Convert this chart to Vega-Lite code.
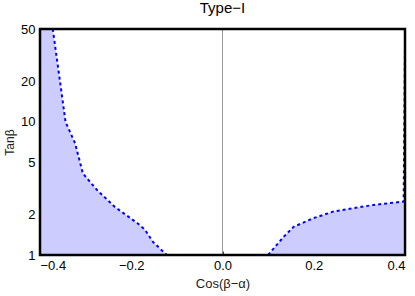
{
  "$schema": "https://vega.github.io/schema/vega-lite/v6.json",
  "autosize": "none",
  "width": 365,
  "height": 226,
  "padding": {"left": 40, "top": 29, "right": 10, "bottom": 41},
  "background": "white",
  "config": {
    "font": "Liberation Sans",
    "view": {"stroke": null}
  },
  "title": {"text": "Type−I", "fontSize": 15, "fontWeight": "normal", "font": "Liberation Sans", "offset": 7, "color": "black"},
  "datasets": {
    "curve": [
      {"seg": "L", "i": 0, "x": -0.4, "tanb": 50, "edge": true},
      {"seg": "L", "i": 1, "x": -0.372, "tanb": 50, "edge": false},
      {"seg": "L", "i": 2, "x": -0.356, "tanb": 20, "edge": false},
      {"seg": "L", "i": 3, "x": -0.344, "tanb": 10, "edge": false},
      {"seg": "L", "i": 4, "x": -0.323, "tanb": 6.9, "edge": false},
      {"seg": "L", "i": 5, "x": -0.306, "tanb": 4.1, "edge": false},
      {"seg": "L", "i": 6, "x": -0.275, "tanb": 3.08, "edge": false},
      {"seg": "L", "i": 7, "x": -0.236, "tanb": 2.3, "edge": false},
      {"seg": "L", "i": 8, "x": -0.187, "tanb": 1.74, "edge": false},
      {"seg": "L", "i": 9, "x": -0.17, "tanb": 1.55, "edge": false},
      {"seg": "L", "i": 10, "x": -0.152, "tanb": 1.25, "edge": false},
      {"seg": "L", "i": 11, "x": -0.122, "tanb": 1, "edge": false},
      {"seg": "R", "i": 0, "x": 0.1, "tanb": 1, "edge": false},
      {"seg": "R", "i": 1, "x": 0.134, "tanb": 1.37, "edge": false},
      {"seg": "R", "i": 2, "x": 0.156, "tanb": 1.63, "edge": false},
      {"seg": "R", "i": 3, "x": 0.199, "tanb": 1.89, "edge": false},
      {"seg": "R", "i": 4, "x": 0.243, "tanb": 2.12, "edge": false},
      {"seg": "R", "i": 5, "x": 0.331, "tanb": 2.38, "edge": false},
      {"seg": "R", "i": 6, "x": 0.397, "tanb": 2.52, "edge": false},
      {"seg": "R", "i": 7, "x": 0.4, "tanb": 38, "edge": true}
    ],
    "zero": [{"x": 0}]
  },
  "layer": [
    {
      "data": {"name": "curve"},
      "transform": [{"filter": "datum.seg == 'L'"}],
      "mark": {"type": "area", "fill": "#ccccff", "clip": true},
      "encoding": {
        "x": {"field": "x", "type": "quantitative", "scale": {"domain": [-0.4, 0.4], "nice": false},
          "axis": {"values": [-0.4, -0.2, 0, 0.2, 0.4], "format": ".1f", "title": "Cos(β−α)", "domain": false, "grid": false, "tickSize": -4, "tickColor": "#444", "labelFontSize": 13, "titleFontSize": 13, "titleFontWeight": "normal", "labelColor": "black", "titleColor": "#222", "labelFont": "Liberation Sans", "titleFont": "Liberation Sans", "labelPadding": 8, "titlePadding": 5}},
        "y": {"field": "tanb", "type": "quantitative", "stack": null, "scale": {"type": "log", "domain": [1, 50], "nice": false},
          "axis": {"values": [1, 2, 5, 10, 20, 50], "title": "Tanβ", "domain": false, "grid": false, "tickSize": -4, "tickColor": "#444", "labelFontSize": 13, "titleFontSize": 12, "titleFontWeight": "normal", "labelColor": "black", "titleColor": "#222", "labelFont": "Liberation Sans", "titleFont": "Liberation Sans", "labelPadding": 9, "titlePadding": 4}},
        "y2": {"datum": 1}
      }
    },
    {
      "data": {"name": "curve"},
      "transform": [{"filter": "datum.seg == 'R' && !datum.edge"}],
      "mark": {"type": "area", "fill": "#ccccff", "clip": true},
      "encoding": {
        "x": {"field": "x", "type": "quantitative"},
        "y": {"field": "tanb", "type": "quantitative", "stack": null},
        "y2": {"datum": 1}
      }
    },
    {
      "data": {"name": "zero"},
      "mark": {"type": "rule", "color": "#999999", "strokeWidth": 1},
      "encoding": {"x": {"field": "x", "type": "quantitative"}}
    },
    {
      "data": {"name": "curve"},
      "transform": [{"filter": "datum.seg == 'L' && !datum.edge"}],
      "mark": {"type": "line", "color": "#0000ff", "strokeWidth": 2, "strokeDash": [3, 3], "clip": true},
      "encoding": {
        "x": {"field": "x", "type": "quantitative"},
        "y": {"field": "tanb", "type": "quantitative"}
      }
    },
    {
      "data": {"name": "curve"},
      "transform": [{"filter": "datum.seg == 'R'"}],
      "mark": {"type": "line", "color": "#0000ff", "strokeWidth": 2, "strokeDash": [3, 3], "clip": true},
      "encoding": {
        "x": {"field": "x", "type": "quantitative"},
        "y": {"field": "tanb", "type": "quantitative"},
        "order": {"field": "i"}
      }
    },
    {
      "data": {"name": "zero"},
      "mark": {"type": "rect", "fill": null, "stroke": "black", "strokeWidth": 2.5},
      "encoding": {
        "x": {"datum": -0.4},
        "x2": {"datum": 0.4},
        "y": {"datum": 1},
        "y2": {"datum": 50}
      }
    }
  ]
}
